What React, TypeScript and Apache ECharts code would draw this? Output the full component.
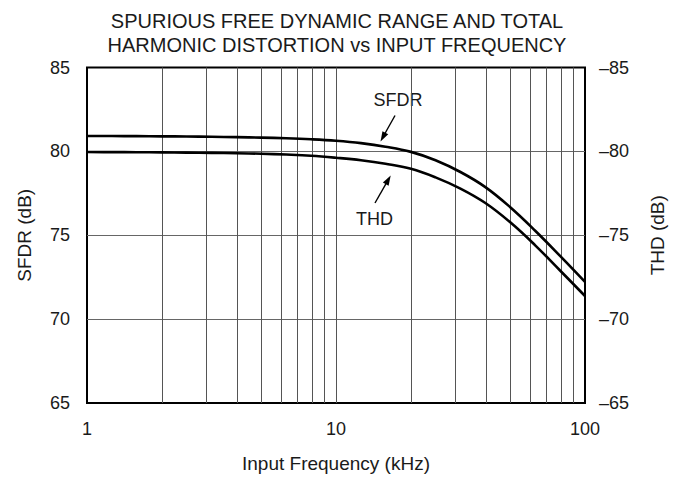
import React, { useEffect, useRef } from "react";
import * as echarts from "echarts";

const FREQ = [1, 1.26, 1.58, 2, 2.51, 3.16, 3.98, 5.01, 6.31, 7.94, 10, 12.6, 15.8, 20, 25.1, 31.6, 39.8, 50.1, 63.1, 79.4, 100];
const SFDR = [80.92, 80.915, 80.907, 80.897, 80.885, 80.87, 80.85, 80.82, 80.78, 80.72, 80.63, 80.49, 80.28, 79.97, 79.47, 78.77, 77.87, 76.67, 75.27, 73.77, 72.22];
const THD = [-79.96, -79.955, -79.95, -79.94, -79.925, -79.91, -79.89, -79.86, -79.81, -79.74, -79.62, -79.47, -79.26, -78.96, -78.45, -77.78, -76.92, -75.77, -74.4, -72.9, -71.38];
const MINOR_GRID_X = [2, 3, 4, 5, 6, 7, 8, 9, 20, 30, 40, 50, 60, 70, 80, 90];

const TITLE = "SPURIOUS FREE DYNAMIC RANGE AND TOTAL\nHARMONIC DISTORTION vs INPUT FREQUENCY";
const FONT = "'Liberation Sans', Arial, Helvetica, sans-serif";

function arrow(x1: number, y1: number, x2: number, y2: number) {
  const dx = x2 - x1;
  const dy = y2 - y1;
  const len = Math.sqrt(dx * dx + dy * dy);
  const ux = dx / len;
  const uy = dy / len;
  const hl = 10;
  const hw = 3.3;
  const bx = x2 - hl * ux;
  const by = y2 - hl * uy;
  const nx = -uy;
  const ny = ux;
  return [
    {
      type: "line",
      shape: { x1, y1, x2: bx + ux * 2, y2: by + uy * 2 },
      style: { stroke: "#000", lineWidth: 1.4 },
      silent: true,
    },
    {
      type: "polygon",
      shape: {
        points: [
          [x2, y2],
          [bx + hw * nx, by + hw * ny],
          [bx - hw * nx, by - hw * ny],
        ],
      },
      style: { fill: "#000" },
      silent: true,
    },
  ];
}

export default function App() {
  const ref = useRef<HTMLDivElement>(null);
  useEffect(() => {
    if (!ref.current) return;
    const chart = echarts.init(ref.current, null, { renderer: "svg" });
    const labelStyle = { color: "#1a1a1a", fontSize: 18, fontFamily: FONT };
    chart.setOption({
      animation: false,
      backgroundColor: "#fff",
      title: {
        text: TITLE,
        left: 337,
        top: 9.5,
        padding: 0,
        textAlign: "center",
        textStyle: { color: "#1a1a1a", fontSize: 20, fontWeight: "normal", fontFamily: FONT, lineHeight: 23.5 },
      },
      grid: {
        left: 87,
        right: 97,
        top: 67.5,
        bottom: 72.5,
        show: true,
        borderColor: "#000",
        borderWidth: 2,
        backgroundColor: "transparent",
      },
      xAxis: {
        type: "log",
        logBase: 10,
        min: 1,
        max: 100,
        name: "Input Frequency (kHz)",
        nameLocation: "middle",
        nameGap: 51,
        nameTextStyle: { ...labelStyle, fontSize: 19 },
        axisLine: { show: false },
        axisTick: { show: false },
        axisLabel: { ...labelStyle, margin: 17 },
        splitLine: { show: true, showMinLine: false, showMaxLine: false, lineStyle: { color: "#555", width: 1 } },
      },
      yAxis: [
        {
          type: "value",
          min: 65,
          max: 85,
          interval: 5,
          name: "SFDR (dB)",
          nameLocation: "middle",
          nameGap: 53,
          nameTextStyle: { ...labelStyle, fontSize: 19 },
          axisLine: { show: false },
          axisTick: { show: false },
          axisLabel: { ...labelStyle, margin: 17 },
          splitLine: { show: true, showMinLine: false, showMaxLine: false, lineStyle: { color: "#666", width: 1 } },
        },
        {
          type: "value",
          min: -85,
          max: -65,
          interval: 5,
          inverse: true,
          position: "right",
          name: "THD (dB)",
          nameLocation: "middle",
          nameGap: 63,
          nameTextStyle: { ...labelStyle, fontSize: 19 },
          axisLine: { show: false },
          axisTick: { show: false },
          axisLabel: {
            ...labelStyle,
            margin: 14,
            formatter: (v: number) => (v < 0 ? "\u2013" + Math.abs(v) : String(v)),
          },
          splitLine: { show: false },
        },
      ],
      series: [
        {
          name: "SFDR",
          type: "line",
          yAxisIndex: 0,
          data: FREQ.map((f, i) => [f, SFDR[i]]),
          smooth: 0.4,
          showSymbol: false,
          symbol: "none",
          lineStyle: { color: "#000", width: 2.6 },
          z: 5,
          markLine: {
            silent: true,
            symbol: "none",
            label: { show: false },
            lineStyle: { color: "#555", width: 1, type: "solid" },
            data: MINOR_GRID_X.map((v) => ({ xAxis: v })),
            z: 1,
          },
        },
        {
          name: "THD",
          type: "line",
          yAxisIndex: 1,
          data: FREQ.map((f, i) => [f, THD[i]]),
          smooth: 0.4,
          showSymbol: false,
          symbol: "none",
          lineStyle: { color: "#000", width: 2.6 },
          z: 5,
        },
      ],
      graphic: [
        {
          type: "text",
          x: 398,
          y: 99.5,
          style: { text: "SFDR", fill: "#1a1a1a", fontSize: 18, fontFamily: FONT, align: "center", verticalAlign: "middle" },
        },
        {
          type: "text",
          x: 374.5,
          y: 219,
          style: { text: "THD", fill: "#1a1a1a", fontSize: 18, fontFamily: FONT, align: "center", verticalAlign: "middle" },
        },
        ...arrow(395, 115.5, 380.5, 141.5),
        ...arrow(375, 203, 390.7, 175.5),
      ],
    });
    return () => chart.dispose();
  }, []);
  return <div ref={ref} style={{ position: "absolute", left: 0, top: 0, width: 682, height: 478 }} />;
}
